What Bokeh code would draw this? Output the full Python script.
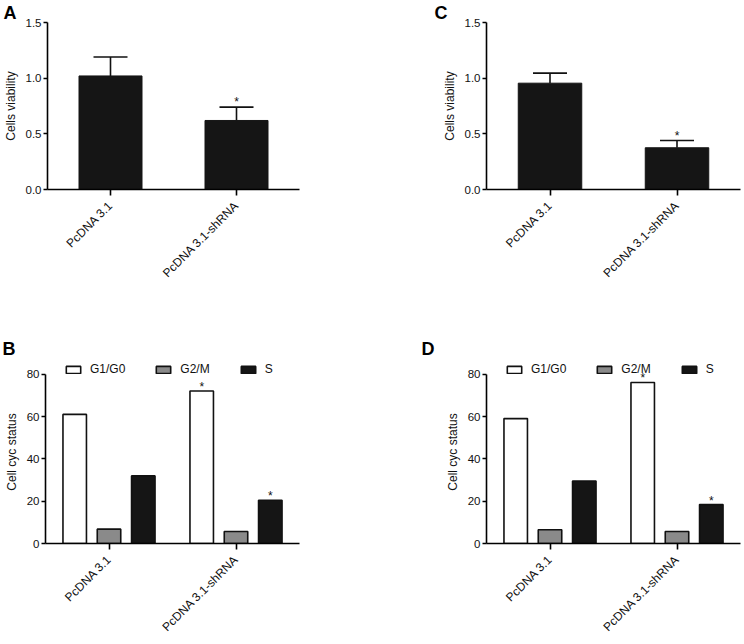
import math
from bokeh.plotting import figure
from bokeh.models import (ColumnDataSource, FactorRange, Range1d, Whisker, TeeHead,
                          Legend, LegendItem, FixedTicker, NumeralTickFormatter)
from bokeh.transform import dodge
from bokeh.layouts import column, row
from bokeh.embed import file_html
from bokeh.resources import INLINE
from bokeh.core.properties import value

# ---------------- data ----------------
groups = ["PcDNA 3.1", "PcDNA 3.1-shRNA"]

# Panel A: cell viability
viability_A = [1.02, 0.62]
error_A = [0.17, 0.12]
sig_A = [False, True]

# Panel C: cell viability
viability_C = [0.955, 0.375]
error_C = [0.09, 0.065]
sig_C = [False, True]

phases = ["G1/G0", "G2/M", "S"]
# Panel B: cell cycle status
g1_B = [61.1, 72.2]
g2m_B = [6.8, 5.7]
s_B = [32.0, 20.5]
sig_g1_B = [False, True]
sig_s_B = [False, True]

# Panel D: cell cycle status
g1_D = [59.1, 76.2]
g2m_D = [6.5, 5.7]
s_D = [29.6, 18.4]
sig_g1_D = [False, True]
sig_s_D = [False, True]

viability_ticks = [0, 0.5, 1.0, 1.5]
cycle_ticks = [0, 20, 40, 60, 80]

FONT = "Liberation Sans"
DARK = "#151515"
GREY = "#8a8a8a"
INK = "#111111"


def base_fig(width, height, left, right, top, bottom, y_end, ticks, fmt, ylabel,
             letter, letter_offset, letter_standoff):
    p = figure(width=width, height=height,
               x_range=FactorRange(factors=groups), y_range=Range1d(0, y_end),
               output_backend="svg", toolbar_location=None,
               min_border_left=left, min_border_right=right,
               min_border_top=top, min_border_bottom=bottom)
    p.outline_line_color = None
    p.grid.visible = False
    p.background_fill_color = "white"
    p.border_fill_color = "white"

    p.title.text = letter
    p.title.align = "left"
    p.title.offset = letter_offset
    p.title.standoff = letter_standoff
    p.title.text_font = FONT
    p.title.text_font_size = "18px"
    p.title.text_font_style = "bold"
    p.title.text_color = "black"

    p.xaxis.major_label_orientation = math.pi / 4
    p.xaxis.major_tick_in = 0
    p.xaxis.major_tick_out = 6
    p.xaxis.major_label_standoff = 8
    p.xaxis.major_label_text_font = FONT
    p.xaxis.major_label_text_font_size = "12px"
    p.xaxis.major_label_text_color = INK
    p.xaxis.axis_line_width = 1.6
    p.xaxis.major_tick_line_width = 1.6

    p.yaxis.ticker = FixedTicker(ticks=ticks)
    p.yaxis.formatter = NumeralTickFormatter(format=fmt)
    p.yaxis.bounds = (ticks[0], ticks[-1])
    p.yaxis.minor_tick_line_color = None
    p.yaxis.major_tick_in = 0
    p.yaxis.major_tick_out = 4
    p.yaxis.major_label_standoff = 2
    p.yaxis.major_label_text_font = FONT
    p.yaxis.major_label_text_font_size = "11.5px"
    p.yaxis.major_label_text_color = INK
    p.yaxis.axis_line_width = 1.6
    p.yaxis.major_tick_line_width = 1.6
    p.yaxis.axis_label = ylabel
    p.yaxis.axis_label_text_font = FONT
    p.yaxis.axis_label_text_font_size = "12px"
    p.yaxis.axis_label_text_font_style = "normal"
    p.yaxis.axis_label_text_color = INK
    p.yaxis.axis_label_standoff = 5
    return p


def add_stars(p, x_spec, xs, ys, dy):
    src = ColumnDataSource(dict(x=xs, y=ys, t=["*"] * len(xs)))
    p.text(x=x_spec, y="y", text="t", source=src, text_align="center",
           text_baseline="alphabetic", y_offset=dy, text_font=value(FONT),
           text_font_size="12px", text_color=INK)


def viability_panel(vals, errs, sig, letter, left, right, letter_offset):
    p = base_fig(372, 318, left, right, 20, 129, 1.5, viability_ticks, "0.0",
                 "Cells viability", letter, letter_offset, 0)
    upper = [v + e for v, e in zip(vals, errs)]
    src = ColumnDataSource(dict(x=groups, top=vals, upper=upper))
    p.vbar(x="x", top="top", width=0.5, source=src, fill_color=DARK,
           line_color=DARK, line_width=1)
    p.add_layout(Whisker(base="x", lower="top", upper="upper", source=src,
                         dimension="height", line_color=INK, line_width=1.6,
                         upper_head=TeeHead(size=34, line_color=INK, line_width=1.6),
                         lower_head=None))
    xs = [g for g, s in zip(groups, sig) if s]
    ys = [u for u, s in zip(upper, sig) if s]
    add_stars(p, "x", xs, ys, -5)
    return p


def cycle_panel(g1, g2m, s, sig_g1, sig_s, letter, left, right, letter_offset):
    # frame extends a little above 80 so that the legend sits inside it;
    # the y axis itself stops at 80
    p = base_fig(372, 324, left, right, 42, 99, 86.6, cycle_ticks, "0",
                 "Cell cyc status", letter, letter_offset, 4)
    src = ColumnDataSource(dict(x=groups, g1=g1, g2m=g2m, s=s))
    r1 = p.vbar(x=dodge("x", -0.27, range=p.x_range), top="g1", width=0.185, source=src,
                fill_color="white", line_color=INK, line_width=1.6)
    r2 = p.vbar(x=dodge("x", 0.0, range=p.x_range), top="g2m", width=0.185, source=src,
                fill_color=GREY, line_color=INK, line_width=1.6)
    r3 = p.vbar(x=dodge("x", 0.27, range=p.x_range), top="s", width=0.185, source=src,
                fill_color=DARK, line_color=INK, line_width=1.6)
    xs1 = [g for g, f in zip(groups, sig_g1) if f]
    ys1 = [v for v, f in zip(g1, sig_g1) if f]
    add_stars(p, dodge("x", -0.27, range=p.x_range), xs1, ys1, -4)
    xs3 = [g for g, f in zip(groups, sig_s) if f]
    ys3 = [v for v, f in zip(s, sig_s) if f]
    add_stars(p, dodge("x", 0.27, range=p.x_range), xs3, ys3, -4)

    legend = Legend(items=[LegendItem(label=phases[0], renderers=[r1]),
                           LegendItem(label=phases[1], renderers=[r2]),
                           LegendItem(label=phases[2], renderers=[r3])],
                    orientation="horizontal", location=(19, 167),
                    glyph_width=18, glyph_height=9, label_standoff=8, spacing=29,
                    padding=0, margin=0, border_line_color=None,
                    background_fill_alpha=0, label_text_font=FONT,
                    label_text_font_size="12px", label_text_color=INK)
    p.add_layout(legend)
    return p


pA = viability_panel(viability_A, error_A, sig_A, "A", 45, 73, -44)
pC = viability_panel(viability_C, error_C, sig_C, "C", 114, 4, -52)
pB = cycle_panel(g1_B, g2m_B, s_B, sig_g1_B, sig_s_B, "B", 45, 73, -43)
pD = cycle_panel(g1_D, g2m_D, s_D, sig_g1_D, sig_s_D, "D", 114, 4, -65)

layout = column(row(pA, pC), row(pB, pD))
open("out.html", "w").write(file_html(layout, INLINE))
